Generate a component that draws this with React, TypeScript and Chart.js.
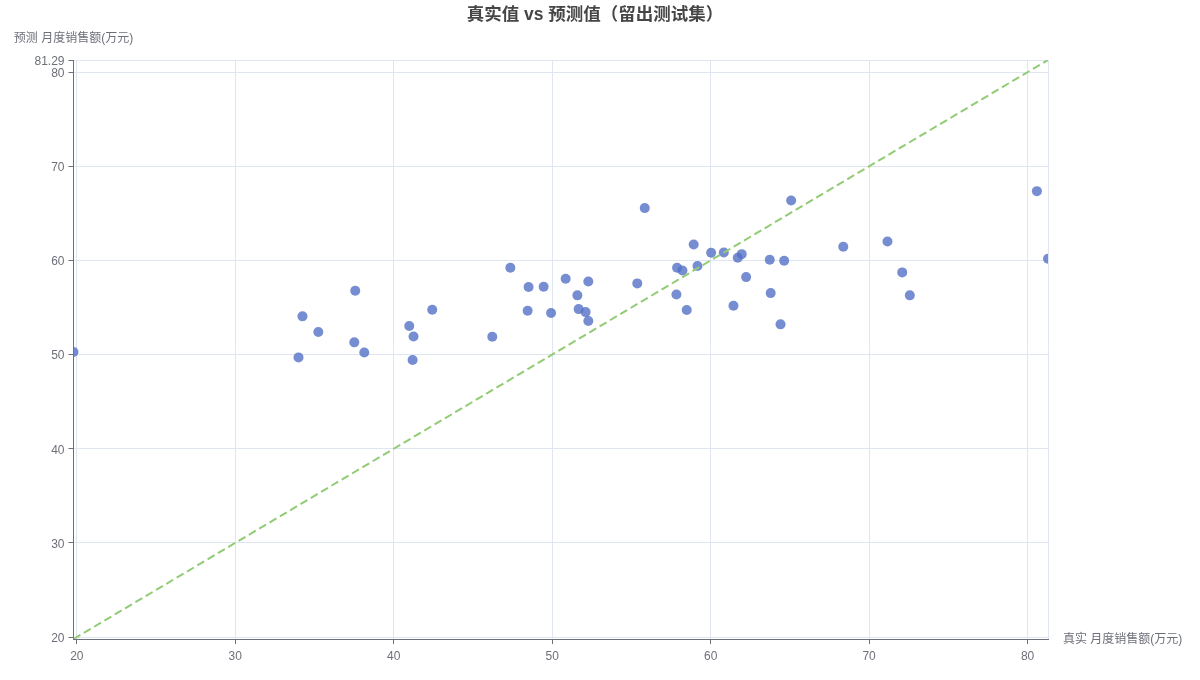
import React, { useEffect, useRef } from "react";
import { Chart, registerables } from "chart.js";

Chart.register(...registerables);

const TITLE = "真实值 vs 预测值（留出测试集）";
const X_NAME = "真实 月度销售额(万元)";
const Y_NAME = "预测 月度销售额(万元)";

const AXIS_MIN = 19.79;
const AXIS_MAX = 81.29;
const X_TICKS = [20, 30, 40, 50, 60, 70, 80, 81.29];
const Y_TICKS = [20, 30, 40, 50, 60, 70, 80, 81.29];

const actual = [
  19.79, 33.99, 34.24, 35.24, 37.51, 37.57, 38.14, 40.98, 41.25, 41.19,
  42.43, 46.22, 47.36, 48.45, 48.51, 49.46, 49.93, 50.85, 51.59, 51.67,
  52.11, 52.28, 52.28, 55.37, 55.84, 57.84, 57.88, 58.22, 58.49, 58.93,
  59.17, 60.03, 60.83, 61.44, 61.71, 61.96, 62.24, 63.73, 63.79, 64.41,
  64.64, 65.08, 68.37, 71.16, 72.09, 72.57, 80.59, 81.29,
];
const predicted = [
  50.27, 49.7, 54.06, 52.39, 51.3, 56.78, 50.23, 53.04, 51.93, 49.42,
  54.76, 51.89, 59.22, 54.65, 57.17, 57.2, 54.41, 58.05, 56.29, 54.83,
  54.51, 57.77, 53.56, 57.56, 65.56, 56.39, 59.22, 58.94, 54.73, 61.7,
  59.4, 60.81, 60.85, 55.18, 60.28, 60.67, 58.23, 60.07, 56.53, 53.21,
  59.96, 66.37, 61.45, 62.02, 58.73, 56.29, 67.36, 60.17,
];
const diagonal = [AXIS_MIN, AXIS_MAX];

const FONT = "'Liberation Sans', 'Noto Sans CJK SC', sans-serif";
const TEXT = "#6E7079";
const GRID = "#E0E6F1";

const textPlugin = {
  id: "texts",
  afterDraw(chart: any) {
    const { ctx, chartArea } = chart;
    ctx.save();
    ctx.fillStyle = "#464646";
    ctx.font = `bold 17.5px ${FONT}`;
    ctx.textAlign = "center";
    ctx.textBaseline = "middle";
    ctx.fillText(TITLE, 595, 15);
    ctx.fillStyle = TEXT;
    ctx.font = `12px ${FONT}`;
    ctx.textAlign = "center";
    ctx.fillText(Y_NAME, chartArea.left, 39);
    ctx.textAlign = "left";
    ctx.fillText(X_NAME, chartArea.right + 15, chartArea.bottom + 1);
    ctx.restore();
  },
};

export default function App() {
  const ref = useRef<HTMLCanvasElement>(null);
  useEffect(() => {
    const points = actual.map((x, i) => ({ x, y: predicted[i] }));
    const line = diagonal.map((v) => ({ x: v, y: v }));
    const chart = new Chart(ref.current!, {
      type: "scatter",
      data: {
        datasets: [
          {
            type: "line",
            data: line,
            borderColor: "#91cc75",
            borderWidth: 2,
            borderDash: [8, 4],
            pointRadius: 0,
            fill: false,
            order: 0,
          } as any,
          {
            data: points,
            backgroundColor: "rgba(84,112,198,0.8)",
            borderWidth: 0,
            pointRadius: 5,
            pointHoverRadius: 5,
            order: 1,
          },
        ],
      },
      options: {
        animation: false,
        responsive: false,
        maintainAspectRatio: false,
        layout: { padding: { left: 0, top: 60, right: 152, bottom: 0 } },
        plugins: {
          legend: { display: false },
          title: { display: false },
          tooltip: { enabled: false },
        },
        scales: {
          x: {
            type: "linear",
            min: AXIS_MIN,
            max: AXIS_MAX,
            afterBuildTicks: (scale: any) => {
              scale.ticks = X_TICKS.map((v) => ({ value: v }));
            },
            afterFit: (scale: any) => {
              scale.height = 41;
            },
            ticks: {
              autoSkip: false,
              maxRotation: 0,
              padding: 5,
              color: TEXT,
              font: { family: FONT, size: 12 },
              callback: (v: any) => (v === AXIS_MAX ? "" : String(v)),
            },
            grid: {
              color: GRID,
              tickLength: 5,
              tickColor: (c: any) =>
                c.tick && c.tick.value === AXIS_MAX ? "rgba(0,0,0,0)" : TEXT,
            },
            border: { color: TEXT, width: 1 },
          },
          y: {
            type: "linear",
            min: AXIS_MIN,
            max: AXIS_MAX,
            afterBuildTicks: (scale: any) => {
              scale.ticks = Y_TICKS.map((v) => ({ value: v }));
            },
            afterFit: (scale: any) => {
              scale.width = 73.5;
            },
            ticks: {
              autoSkip: false,
              padding: 4,
              labelOffset: 1.5,
              color: TEXT,
              font: { family: FONT, size: 12 },
              callback: (v: any) => String(v),
            },
            grid: {
              color: GRID,
              tickLength: 5,
              tickColor: TEXT,
            },
            border: { color: TEXT, width: 1 },
          },
        },
      },
      plugins: [textPlugin],
    });
    return () => chart.destroy();
  }, []);
  return (
    <div style={{ position: "fixed", left: 0, top: 0, width: 1200, height: 680, background: "#fff" }}>
      <canvas ref={ref} width={1200} height={680} style={{ width: 1200, height: 680 }} />
    </div>
  );
}
